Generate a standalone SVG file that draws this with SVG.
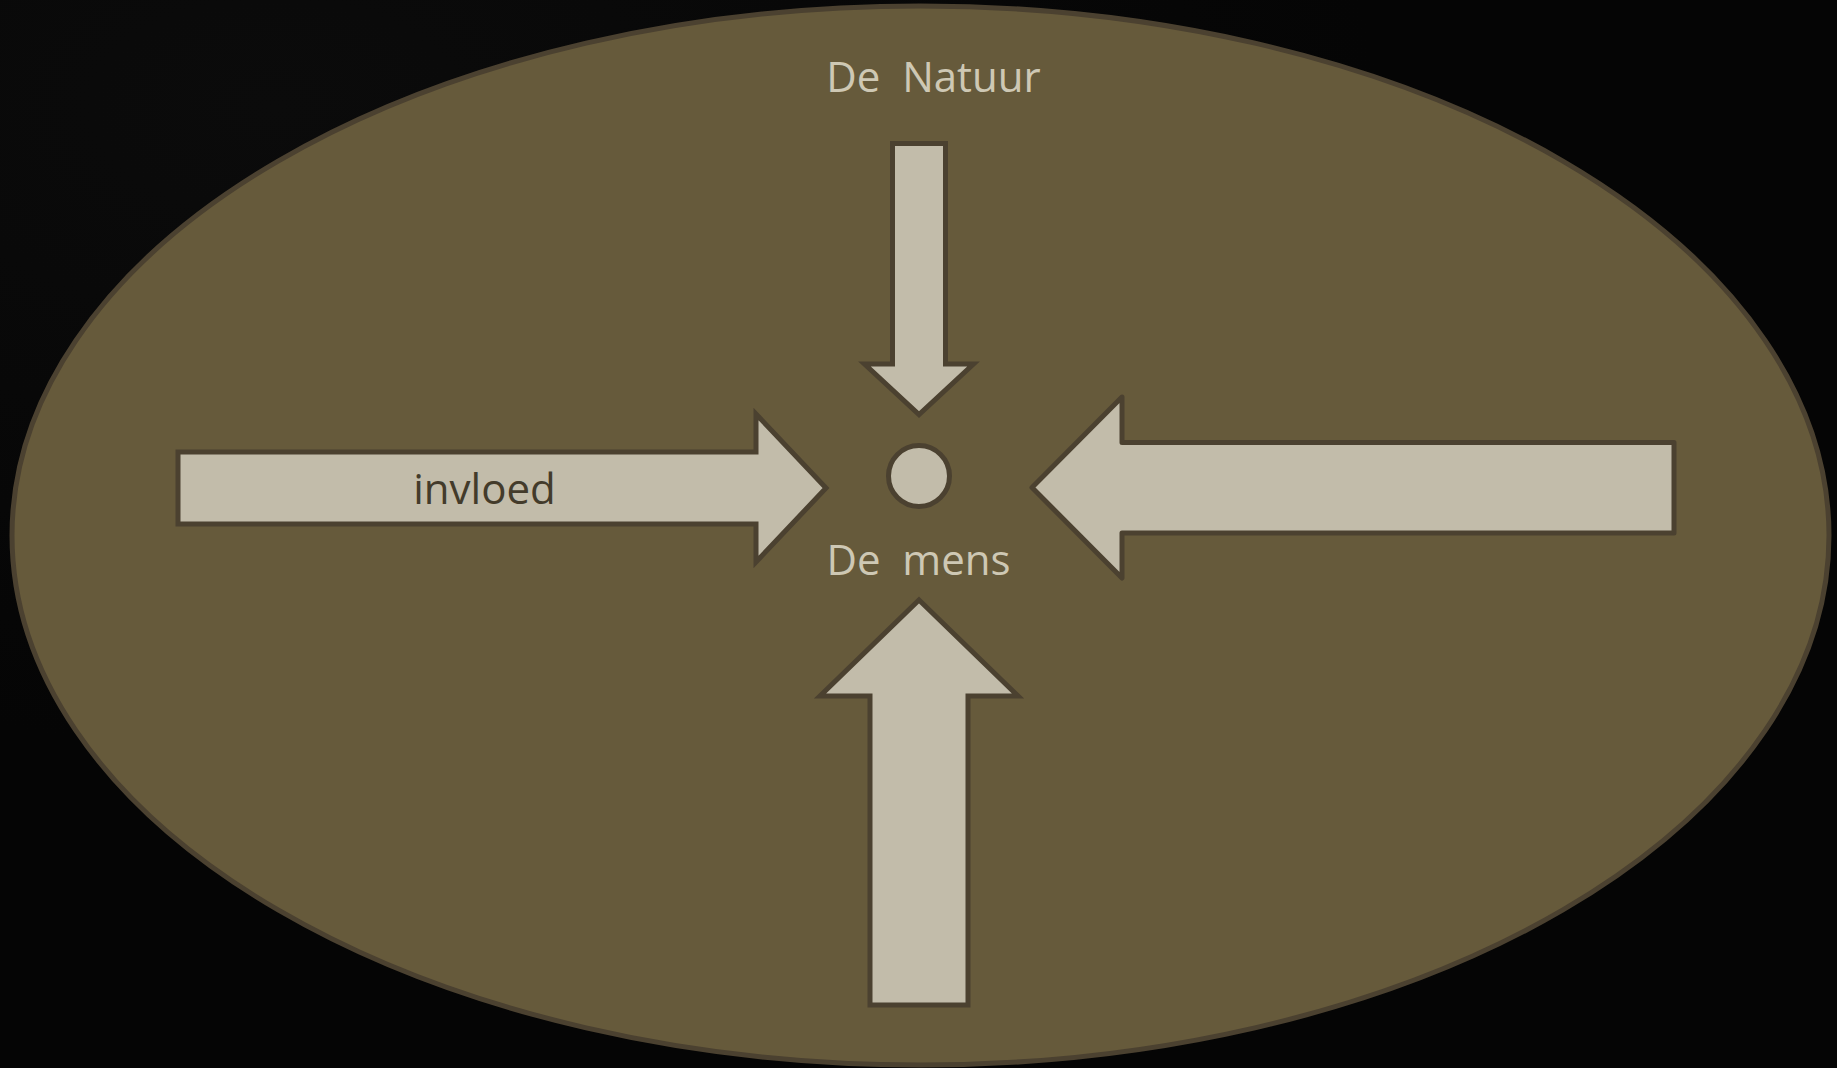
<svg xmlns="http://www.w3.org/2000/svg" width="1837" height="1068" viewBox="0 0 1837 1068">
  <defs>
    <radialGradient id="bgGlow" cx="0.15" cy="0.1" r="0.6">
      <stop offset="0" stop-color="#0b0b0b"/>
      <stop offset="1" stop-color="#050505"/>
    </radialGradient>
    <style>
      .arrow { fill: #C2BCAA; stroke: #4B4130; stroke-width: 5; stroke-linejoin: miter; }
      .round { stroke-linejoin: round; }
      .light { font-family: "Open Sans", "Noto Sans", sans-serif; font-size: 42px; fill: #CEC8B4; text-anchor: middle; white-space: pre; }
      .dark { font-family: "Open Sans", "Noto Sans", sans-serif; font-size: 42px; fill: #433B2B; text-anchor: middle; }
    </style>
  </defs>

  <rect x="0" y="0" width="1837" height="1068" fill="url(#bgGlow)"/>

  <g id="world">
    <ellipse cx="920.5" cy="535.5" rx="908.5" ry="529.5" fill="#665A3B" stroke="#4B4130" stroke-width="5"/>
  </g>

  <g id="natuur">
    <text class="light" x="933.5" y="92" xml:space="preserve">De  Natuur</text>
  </g>

  <g id="mens">
    <circle cx="919" cy="476" r="30.5" fill="#C2BCAA" stroke="#4B4130" stroke-width="5"/>
    <text class="light" x="918.5" y="575" xml:space="preserve">De  mens</text>
  </g>

  <g id="connectors">
    <g id="arrow-top">
      <polygon class="arrow" points="892.5,143.5 945.5,143.5 945.5,364 973.5,364 919,414.5 864.5,364 892.5,364"/>
    </g>
    <g id="arrow-left">
      <polygon class="arrow" points="178,452 756,452 756,414 826,488 756,562 756,524 178,524"/>
      <text class="dark" x="484.5" y="504">invloed</text>
    </g>
    <g id="arrow-right">
      <polygon class="arrow round" points="1674,442.5 1122,442.5 1122,397 1032,487.5 1122,578 1122,533 1674,533"/>
    </g>
    <g id="arrow-bottom">
      <polygon class="arrow" points="919,600 1018,696 968,696 968,1005 870,1005 870,696 820,696"/>
    </g>
  </g>
</svg>
